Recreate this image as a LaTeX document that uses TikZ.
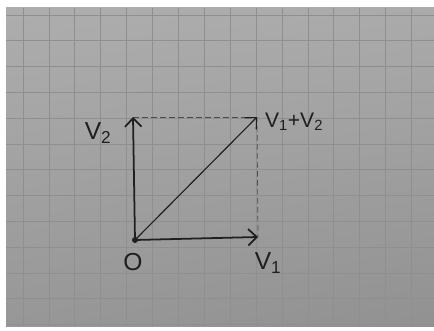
\documentclass[tikz,border=0pt]{standalone}
\usepackage{fontspec}
\setmainfont{Liberation Sans}
\usetikzlibrary{arrows.meta,shadings}
\definecolor{paperhi}{gray}{0.68}
\definecolor{paperlo}{gray}{0.57}
\definecolor{gridln}{gray}{0.56}
\definecolor{ink}{gray}{0.12}
\begin{document}
\begin{tikzpicture}[
  x=0.04cm, y=-0.04cm,
  vec/.style={-{Straight Barb[length=0.34cm,width=0.66cm]}, ink, line width=2pt},
  sumvec/.style={vec, line width=1.3pt},
  helper/.style={ink!80, line width=0.8pt, dash pattern=on 0.22cm off 0.14cm},
  lbl/.style={ink, inner sep=0pt, font=\fontsize{28}{32}\selectfont}
]
% paper and squares
\useasboundingbox (0,0) rectangle (434,331);
\fill[white] (0,0) rectangle (434,331);
\shade[upper left=paperhi, upper right=paperhi!90!paperlo, lower left=paperlo!80!paperhi, lower right=paperlo]
  (6,8) rectangle (434,326);
\foreach \gx in {0,...,15}
  \draw[gridln, line width=0.7pt] (23+25.9*\gx,8) -- (23+25.9*\gx,326);
\foreach \gy in {0,...,12}
  \draw[gridln, line width=0.7pt] (6,15+25.8*\gy) -- (434,15+25.8*\gy);
% points
\coordinate (o) at (135,240);
\coordinate (v1) at (258,237);
\coordinate (v2) at (133,117);
\coordinate (s) at (257,117);
\fill[ink] (o) circle (3);
% vectors
\draw[helper] (v2) -- (s);
\draw[helper] (s) -- (v1);
\draw[vec] (o) -- (v1);
\draw[vec] (o) -- (v2);
\draw[sumvec] (o) -- (s);
% labels
\node[lbl] (lo) at (133,262) {O};
\node[lbl] (lv1) at (268,263) {V\textsubscript{1}};
\node[lbl] (lv2) at (98,133) {V\textsubscript{2}};
\node[lbl, anchor=west, font=\fontsize{24}{28}\selectfont] (ls) at (265,122) {V\textsubscript{1}+V\textsubscript{2}};
\end{tikzpicture}
\end{document}
